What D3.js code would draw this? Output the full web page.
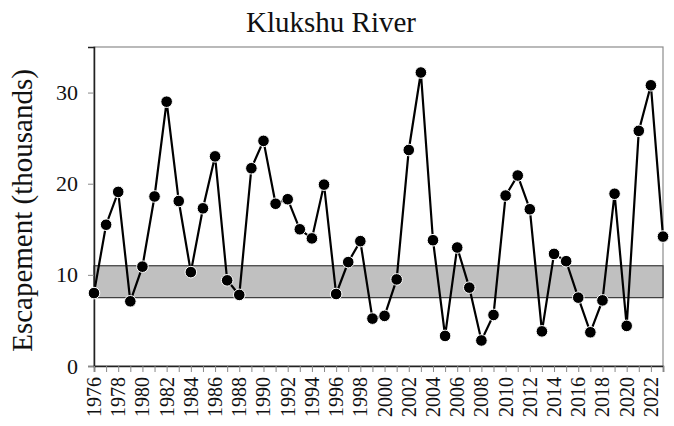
<!DOCTYPE html>
<html>
<head>
<meta charset="utf-8">
<script src="https://cdn.jsdelivr.net/npm/d3@7"></script>
<style>
  body { margin: 0; background: #fff; }
  svg text { font-family: "Liberation Serif", "Times New Roman", serif; }
</style>
</head>
<body>
<div id="chart"></div>
<script>
// Klukshu River escapement, thousands of fish
const years = d3.range(1976, 2024);
const escapement = [
  8.0, 15.5, 19.1, 7.1, 10.9, 18.6, 29.0, 18.1, 10.3, 17.3,
  23.0, 9.4, 7.8, 21.7, 24.7, 17.8, 18.3, 15.0, 14.0, 19.9,
  7.9, 11.4, 13.7, 5.2, 5.5, 9.5, 23.7, 32.2, 13.8, 3.3,
  13.0, 8.6, 2.8, 5.6, 18.7, 20.9, 17.2, 3.8, 12.3, 11.5,
  7.5, 3.7, 7.2, 18.9, 4.4, 25.8, 30.8, 14.2
];
// escapement goal range
const goalRange = [7.5, 11];
const yTicks = [0, 10, 20, 30];
const xLabelYears = d3.range(1976, 2023, 2);

const serif = '"Liberation Serif", "Times New Roman", serif';
const width = 674, height = 426;
const margin = { top: 47, right: 11, bottom: 60, left: 94 };

const svg = d3.select('#chart')
    .append('svg')
    .attr('width', width)
    .attr('height', height);

const x = d3.scaleLinear()
    .domain([1976, 2023])
    .range([margin.left, width - margin.right]);

const y = d3.scaleLinear()
    .domain([0, 35])
    .range([height - margin.bottom, margin.top]);

// plot frame
svg.append('rect')
    .attr('x', margin.left)
    .attr('y', margin.top)
    .attr('width', width - margin.left - margin.right)
    .attr('height', height - margin.top - margin.bottom)
    .attr('fill', 'none')
    .attr('stroke', '#8c8c8c')
    .attr('stroke-width', 1.2);

// goal band
svg.append('rect')
    .attr('x', x(1976))
    .attr('y', y(goalRange[1]))
    .attr('width', x(2023) - x(1976))
    .attr('height', y(goalRange[0]) - y(goalRange[1]))
    .attr('fill', '#c0c0c0')
    .attr('stroke', '#3a3a3a')
    .attr('stroke-width', 1.2);

// y axis
const yAxis = svg.append('g')
    .attr('transform', `translate(${margin.left},0)`)
    .call(d3.axisLeft(y).tickValues(yTicks).tickSize(6).tickPadding(10));
yAxis.attr('font-family', serif).attr('font-size', 22);
yAxis.select('.domain').attr('stroke', '#222').attr('stroke-width', 1.5);
yAxis.selectAll('.tick line').attr('stroke', '#888');
yAxis.selectAll('.tick text').attr('fill', '#111');

// x axis
const xAxis = svg.append('g')
    .attr('transform', `translate(0,${height - margin.bottom})`)
    .call(d3.axisBottom(x).tickValues(years).tickSize(6).tickFormat(''));
xAxis.select('.domain').attr('stroke', '#222').attr('stroke-width', 1.5);
xAxis.selectAll('.tick line').attr('stroke', '#888');

svg.append('g')
    .attr('font-family', serif)
    .attr('font-size', 20)
    .selectAll('text')
    .data(xLabelYears)
    .enter()
    .append('text')
    .attr('transform', d => `translate(${x(d)},${height - margin.bottom + 11}) rotate(-90)`)
    .attr('text-anchor', 'end')
    .attr('dy', '0.35em')
    .attr('fill', '#111')
    .text(d => d);

// series line
const line = d3.line()
    .x((d, i) => x(years[i]))
    .y(d => y(d));

svg.append('path')
    .datum(escapement)
    .attr('fill', 'none')
    .attr('stroke', '#000')
    .attr('stroke-width', 2.2)
    .attr('d', line);

svg.append('g')
    .selectAll('circle')
    .data(escapement)
    .enter()
    .append('circle')
    .attr('cx', (d, i) => x(years[i]))
    .attr('cy', d => y(d))
    .attr('r', 5.8)
    .attr('fill', '#000')
    .attr('stroke', '#fff')
    .attr('stroke-width', 1);

// title
svg.append('text')
    .attr('x', 331)
    .attr('y', 32)
    .attr('text-anchor', 'middle')
    .attr('font-family', serif)
    .attr('font-size', 29)
    .attr('fill', '#111')
    .text('Klukshu River');

// y axis label
svg.append('text')
    .attr('transform', `translate(22,${(margin.top + height - margin.bottom) / 2 + 4}) rotate(-90)`)
    .attr('text-anchor', 'middle')
    .attr('dy', '0.35em')
    .attr('font-family', serif)
    .attr('font-size', 29)
    .attr('fill', '#111')
    .text('Escapement (thousands)');
</script>
</body>
</html>
